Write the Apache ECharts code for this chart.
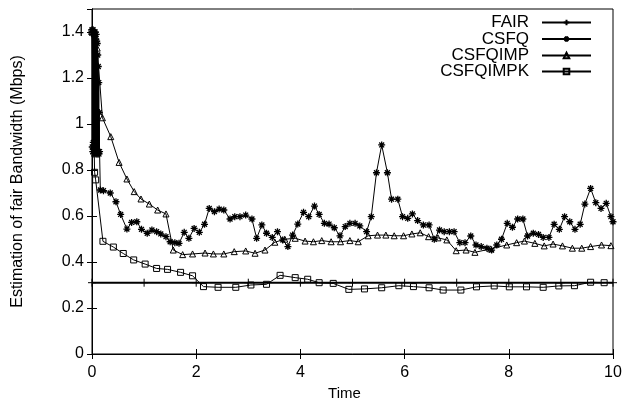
<!DOCTYPE html>
<html>
<head>
<meta charset="utf-8">
<script src="https://cdn.jsdelivr.net/npm/echarts@6/dist/echarts.min.js"></script>
<style>html,body{margin:0;padding:0;background:#fff}#c{width:639px;height:402px}</style>
</head>
<body>
<div id="c"></div>
<script>
const seriesNames = ['FAIR', 'CSFQ', 'CSFQIMP', 'CSFQIMPK'];
const xTicks = [0, 2, 4, 6, 8, 10];
const yTicks = [0, 0.2, 0.4, 0.6, 0.8, 1, 1.2, 1.4];

const fairTime = [0, 1, 2, 3, 4, 5, 6, 7, 8, 9, 10];
const fairRate = [0.31, 0.31, 0.31, 0.31, 0.31, 0.31, 0.31, 0.31, 0.31, 0.31, 0.31];

const csfqTime = [0, 0.005, 0.01, 0.015, 0.02, 0.025, 0.03, 0.035, 0.04, 0.045, 0.05, 0.055, 0.06, 0.065, 0.07, 0.075, 0.08, 0.085, 0.09, 0.095, 0.1, 0.105, 0.11, 0.115, 0.12, 0.125, 0.13, 0.135, 0.14, 0.145,
  0.16, 0.22, 0.35, 0.46, 0.55, 0.67, 0.76, 0.86, 0.95, 1.06, 1.15, 1.24, 1.32, 1.42, 1.50, 1.59, 1.67, 1.77, 1.86, 1.96,
  2.06, 2.16, 2.25, 2.35, 2.44, 2.53, 2.65, 2.74, 2.84, 2.95, 3.07, 3.16, 3.26, 3.35, 3.46, 3.56, 3.66, 3.76, 3.85, 3.95,
  4.06, 4.16, 4.27, 4.36, 4.46, 4.55, 4.65, 4.76, 4.86, 4.95, 5.05, 5.14, 5.27, 5.36, 5.46, 5.56, 5.67, 5.75, 5.87, 5.96,
  6.06, 6.15, 6.25, 6.36, 6.47, 6.57, 6.67, 6.76, 6.86, 6.95, 7.06, 7.16, 7.27, 7.37, 7.47, 7.58, 7.67, 7.77, 7.86, 7.97,
  8.07, 8.17, 8.27, 8.36, 8.47, 8.57, 8.66, 8.77, 8.87, 8.97, 9.07, 9.17, 9.27, 9.37, 9.46, 9.57, 9.67, 9.77, 9.87, 9.96, 10];
const csfqRate = [1.41, 0.9, 1.4, 0.88, 1.41, 0.92, 1.39, 0.87, 1.4, 0.89, 1.38, 0.88, 1.4, 0.9, 1.37, 0.87, 1.39, 0.88, 1.36, 0.87, 1.35, 0.88, 1.3, 0.87, 1.25, 0.88, 1.18, 0.87, 1.05, 0.88,
  0.713, 0.71, 0.70, 0.662, 0.607, 0.543, 0.572, 0.575, 0.542, 0.525, 0.539, 0.532, 0.522, 0.51, 0.488, 0.484, 0.481, 0.529, 0.503, 0.546,
  0.529, 0.564, 0.633, 0.619, 0.630, 0.626, 0.587, 0.597, 0.597, 0.604, 0.587, 0.503, 0.561, 0.525, 0.507, 0.532, 0.496, 0.467, 0.517, 0.565,
  0.616, 0.597, 0.643, 0.607, 0.568, 0.565, 0.549, 0.514, 0.554, 0.568, 0.568, 0.557, 0.532, 0.597, 0.788, 0.909, 0.788, 0.673, 0.673, 0.597,
  0.590, 0.609, 0.580, 0.561, 0.561, 0.499, 0.539, 0.532, 0.532, 0.532, 0.484, 0.484, 0.513, 0.474, 0.467, 0.46, 0.452, 0.474, 0.499, 0.568,
  0.551, 0.587, 0.587, 0.513, 0.525, 0.52, 0.507, 0.507, 0.564, 0.542, 0.597, 0.575, 0.542, 0.564, 0.652, 0.72, 0.658, 0.633, 0.655, 0.597, 0.575];

const impTime = [0, 0.1, 0.2, 0.36, 0.52, 0.67, 0.81, 0.94, 1.10, 1.26, 1.42,
  1.56, 1.74, 1.93, 2.17, 2.33, 2.53, 2.73, 2.95, 3.13,
  3.32, 3.51, 3.70, 3.90, 4.09, 4.25, 4.41, 4.59,
  4.77, 4.95, 5.11, 5.30, 5.48, 5.64, 5.80, 5.98,
  6.14, 6.30, 6.46, 6.64, 6.81, 6.99, 7.18, 7.35,
  7.65, 7.96, 8.15, 8.30, 8.50, 8.68, 8.85, 9.03,
  9.22, 9.40, 9.57, 9.78, 9.96];
const impRate = [1.4, 1.33, 1.027, 0.945, 0.833, 0.761, 0.706, 0.674, 0.652, 0.626, 0.609,
  0.452, 0.432, 0.435, 0.439, 0.435, 0.435, 0.445, 0.448, 0.438,
  0.452, 0.486, 0.499, 0.503, 0.491, 0.488, 0.493, 0.488,
  0.488, 0.493, 0.488, 0.514, 0.517, 0.517, 0.514, 0.514,
  0.522, 0.527, 0.51, 0.505, 0.496, 0.449, 0.452, 0.442,
  0.457, 0.474, 0.484, 0.491, 0.481, 0.47, 0.478, 0.47,
  0.46, 0.46, 0.467, 0.474, 0.471];

const impkTime = [0, 0.05, 0.07, 0.21, 0.41, 0.6, 0.8, 1.02, 1.24, 1.45, 1.7, 1.93, 2.14, 2.42, 2.76, 3.05, 3.35, 3.61, 3.9, 4.14,
  4.36, 4.63, 4.93, 5.23, 5.56, 5.89, 6.17, 6.47, 6.74, 7.08, 7.38, 7.72, 8.01, 8.34, 8.66, 8.96, 9.26, 9.57, 9.83];
const impkRate = [1.4, 0.79, 0.757, 0.49, 0.465, 0.437, 0.409, 0.391, 0.372, 0.368, 0.355, 0.34, 0.293, 0.29, 0.29, 0.30, 0.303, 0.342, 0.332, 0.325,
  0.31, 0.307, 0.281, 0.283, 0.288, 0.297, 0.293, 0.288, 0.278, 0.278, 0.292, 0.296, 0.292, 0.292, 0.29, 0.296, 0.297, 0.312, 0.31];

const pairs = (xs, ys) => xs.map((x, i) => [x, ys[i]]);
const FONT = 'Liberation Sans, Arial, sans-serif';

const plusPath = 'path://M0,5L10,5M5,0L5,10';
const starPath = 'path://M0,5L10,5M5,0L5,10M1.5,1.5L8.5,8.5M8.5,1.5L1.5,8.5';
const triPath = 'path://M5,0L10,9L0,9Z';
const sqPath = 'path://M0,0L10,0L10,10L0,10Z';

function mk(name, data, symbol, size, lw, bw) {
  return {
    name, type: 'line', data, symbol, symbolSize: size, showSymbol: true,
    xAxisIndex: 0, yAxisIndex: 0,
    lineStyle: { color: '#000', width: lw },
    itemStyle: { color: 'rgba(0,0,0,0)', borderColor: '#000', borderWidth: bw },
    emphasis: { disabled: true }, animation: false, clip: true
  };
}

const chart = echarts.init(document.getElementById('c'), null, { renderer: 'canvas' });

const legendRows = [23, 39.5, 56, 72];
const axisCommon = {
  type: 'value', min: 0,
  axisLine: { show: true, lineStyle: { color: '#000', width: 1 } },
  axisTick: { show: true, inside: true, length: 5, lineStyle: { color: '#000' } },
  splitLine: { show: false }
};

chart.setOption({
  animation: false,
  backgroundColor: '#fff',
  grid: { left: 92, right: 26, top: 9, bottom: 48, containLabel: false, outerBoundsMode: 'none',
    show: true, borderColor: '#000', borderWidth: 1, backgroundColor: 'transparent' },
  xAxis: [
    Object.assign({}, axisCommon, {
      max: 10, interval: 2, position: 'bottom',
      name: 'Time', nameLocation: 'middle', nameGap: 32,
      nameTextStyle: { fontFamily: FONT, fontSize: 15, color: '#000', padding: [0, 16, 0, 0] },
      axisLabel: { fontFamily: FONT, fontSize: 16, color: '#000', margin: 11,
        formatter: v => xTicks.indexOf(v) >= 0 ? String(v) : '' }
    }),
    Object.assign({}, axisCommon, {
      max: 10, interval: 2, position: 'top', axisLabel: { show: false }
    })
  ],
  yAxis: [
    Object.assign({}, axisCommon, {
      max: 1.5, interval: 0.2, position: 'left',
      name: 'Estimation of fair Bandwidth (Mbps)', nameLocation: 'middle', nameGap: 66,
      nameTextStyle: { fontFamily: FONT, fontSize: 16, color: '#000' },
      axisLabel: { fontFamily: FONT, fontSize: 16, color: '#000', margin: 8, showMaxLabel: false,
        formatter: v => { const t = yTicks.find(k => Math.abs(k - v) < 1e-6); return t === undefined ? '' : String(t); } }
    }),
    Object.assign({}, axisCommon, {
      max: 1.5, interval: 0.2, position: 'right', axisLabel: { show: false }
    })
  ],
  legend: seriesNames.map((n, i) => ({
    data: [n], right: 47, top: legendRows[i] - 9, align: 'right', orient: 'horizontal',
    itemWidth: 49, itemHeight: 7, selectedMode: false, padding: 0,
    textStyle: { fontFamily: FONT, fontSize: 17, color: '#000', padding: [0, 8, 0, 0] }
  })),
  series: [
    mk('FAIR', pairs(fairTime, fairRate), plusPath, 8, 2, 1),
    mk('CSFQ', pairs(csfqTime, csfqRate), starPath, 7, 1, 1.3),
    mk('CSFQIMP', pairs(impTime, impRate), triPath, 6, 1, 1),
    mk('CSFQIMPK', pairs(impkTime, impkRate), sqPath, 6, 1, 1)
  ]
});
</script>
</body>
</html>
